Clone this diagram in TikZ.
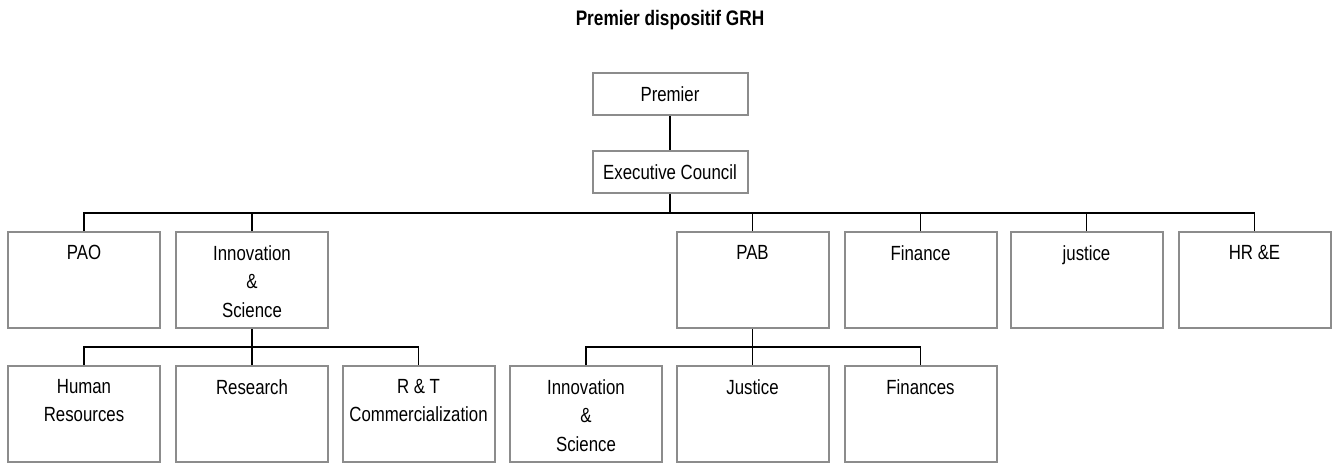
\documentclass[tikz,border=0pt]{standalone}
\usepackage{fontspec}
\setmainfont{Liberation Sans}[FakeStretch=0.82]
\usepackage{tikz}
\usetikzlibrary{positioning}
\definecolor{cB}{RGB}{140,140,140}

\tikzset{
  head/.style={draw=cB, line width=2pt, minimum width=155pt, minimum height=42pt, inner sep=0pt, font=\fontsize{20.5}{28.5}\selectfont},
  unit/.style={draw=cB, line width=2pt, minimum width=152pt, minimum height=96pt, anchor=north, inner sep=0pt},
  lbl/.style={anchor=north, yshift=-14pt, align=center, inner sep=0pt, font=\fontsize{20.5}{28.5}\selectfont},
  wire/.style={line width=1.5pt}
}

\begin{document}
\begin{tikzpicture}[x=1pt, y=-1pt]
    \useasboundingbox (0,0) rectangle (1334,463);

    % Title
    \node[anchor=base, inner sep=0pt, font=\fontsize{21}{25}\selectfont\bfseries] (title) at (670,25) {Premier dispositif GRH};

    % Top of the chart
    \node[head] (premier) at (670,94) {Premier};
    \node[head] (exec) at (670,172) {Executive Council};

    % Departments
    \node[unit, label={[lbl]north:PAO}] (pao) at (84,231) {};
    \node[unit, label={[lbl]north:{Innovation\\\&\\Science}}] (innov) at (252,231) {};
    \node[unit, label={[lbl]north:PAB}] (pab) at (752.5,231) {};
    \node[unit, label={[lbl]north:Finance}] (fin) at (920.5,231) {};
    \node[unit, label={[lbl]north:justice}] (jus) at (1086.5,231) {};
    \node[unit, label={[lbl]north:{HR \&E}}] (hre) at (1254.5,231) {};

    % Under Innovation & Science
    \node[unit, label={[lbl]north:{Human\\Resources}}] (hum) at (84,365) {};
    \node[unit, label={[lbl]north:Research}] (res) at (252,365) {};
    \node[unit, label={[lbl]north:{R \& T\\Commercialization}}] (rt) at (418.5,365) {};

    % Under PAB
    \node[unit, label={[lbl]north:{Innovation\\\&\\Science}}] (ins) at (586,365) {};
    \node[unit, label={[lbl]north:Justice}] (jst) at (752.5,365) {};
    \node[unit, label={[lbl]north:Finances}] (fnc) at (920.5,365) {};

    % Connectors
    \coordinate (bus1) at (670,213);
    \coordinate (bus2) at (252,347);
    \coordinate (bus3) at (752.5,347);
    \draw[wire] (premier) -- (exec);
    \draw[wire] (exec) -- (bus1);
    \foreach \n in {pao,innov,pab,fin,jus,hre}
        \draw[wire] (\n.north) |- (bus1);
    \draw[wire] (innov.south) -- (bus2);
    \foreach \n in {hum,res,rt}
        \draw[wire] (\n.north) |- (bus2);
    \draw[wire] (pab.south) -- (bus3);
    \foreach \n in {ins,jst,fnc}
        \draw[wire] (\n.north) |- (bus3);
\end{tikzpicture}
\end{document}
